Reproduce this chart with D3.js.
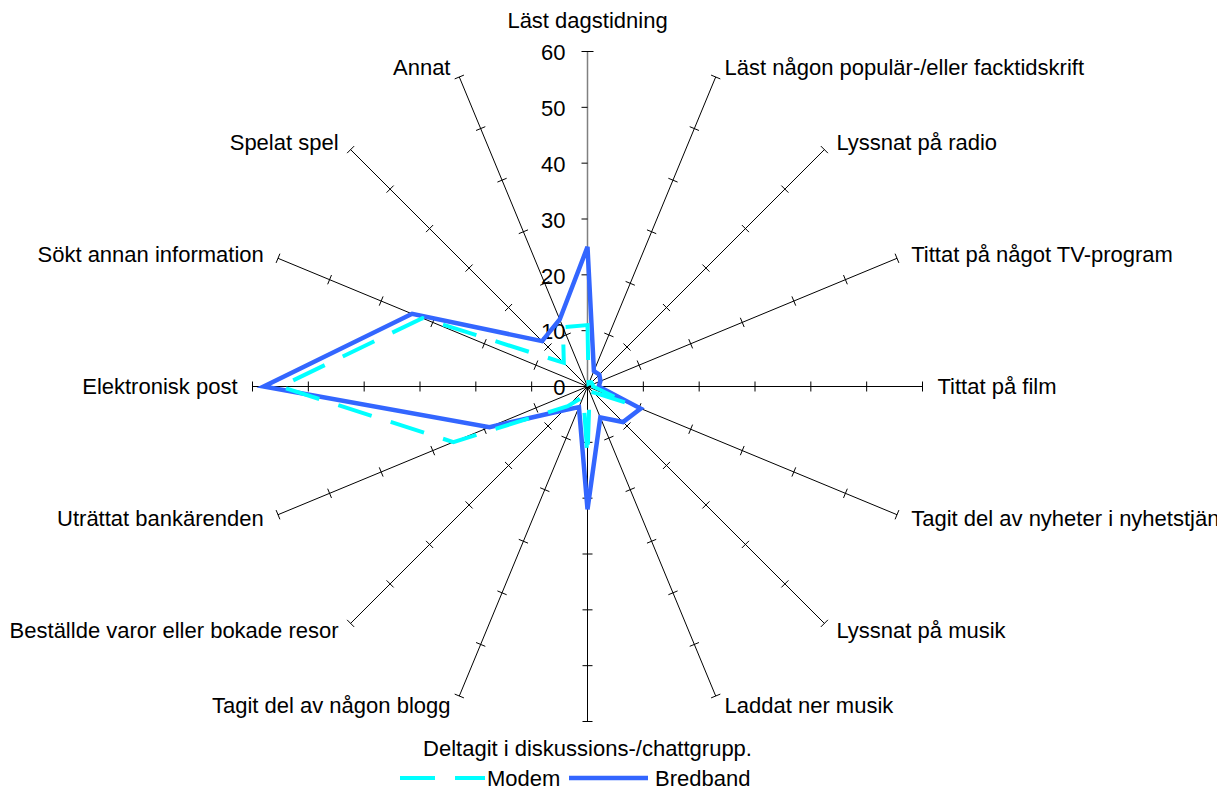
<!DOCTYPE html>
<html>
<head>
<meta charset="utf-8">
<script src="https://cdn.jsdelivr.net/npm/d3@7"></script>
<style>
  html, body { margin: 0; padding: 0; background: #fff; }
  svg { display: block; font-family: "Liberation Sans", Arial, sans-serif; }
</style>
</head>
<body>
<svg id="chart"></svg>
<script>
// categories, clockwise from the top
var categories = [
  "Läst dagstidning",
  "Läst någon populär-/eller facktidskrift",
  "Lyssnat på radio",
  "Tittat på något TV-program",
  "Tittat på film",
  "Tagit del av nyheter i nyhetstjänster",
  "Lyssnat på musik",
  "Laddat ner musik",
  "Deltagit i diskussions-/chattgrupp.",
  "Tagit del av någon blogg",
  "Beställde varor eller bokade resor",
  "Uträttat bankärenden",
  "Elektronisk post",
  "Sökt annan information",
  "Spelat spel",
  "Annat"
];

var modem    = [11, 0.5, 1, 1, 1, 8, 1.5, 1, 12.5, 2, 5, 26, 55, 32, 6, 11.5];
var bredband = [25, 3, 3, 2.5, 2, 10.3, 9, 6, 22, 4, 6, 19, 58, 34, 11.5, 13];

var seriesNames = ["Modem", "Bredband"];
var tickValues = [0, 10, 20, 30, 40, 50, 60];

var width = 1217, height = 788,
    cx = 587.5, cy = 386.5,
    radius = 335,
    fontSize = "22px";

var svg = d3.select("#chart")
    .attr("width", width)
    .attr("height", height);

var r = d3.scaleLinear()
    .domain([0, 60])
    .range([0, radius]);

var angle = d3.scaleLinear()
    .domain([0, categories.length])
    .range([0, 2 * Math.PI]);

var g = svg.append("g")
    .attr("transform", "translate(" + cx + "," + cy + ")");

//-------------spokes + ticks-------------
categories.forEach(function(c, i) {
  var a = angle(i),
      sx = Math.sin(a), sy = -Math.cos(a);

  if (i == 0) return; // value axis drawn separately

  g.append("line")
    .attr("x1", 0).attr("y1", 0)
    .attr("x2", sx * r(60)).attr("y2", sy * r(60))
    .style("stroke", "#000")
    .style("stroke-width", 1);

  // little cross ticks every 10
  tickValues.slice(1).forEach(function(t) {
    var px = sx * r(t), py = sy * r(t);
    g.append("line")
      .attr("x1", px - sy * 5).attr("y1", py + sx * 5)
      .attr("x2", px + sy * 5).attr("y2", py - sx * 5)
      .style("stroke", "#000")
      .style("stroke-width", 1);
  });
});

// value axis (straight up)
g.append("line")
  .attr("x1", 0).attr("y1", 0)
  .attr("x2", 0).attr("y2", -r(60))
  .style("stroke", "#808080")
  .style("stroke-width", 1.5);

tickValues.forEach(function(t) {
  g.append("line")
    .attr("x1", -6).attr("y1", -r(t))
    .attr("x2", t == 60 ? 6 : 0).attr("y2", -r(t))
    .style("stroke", "#000")
    .style("stroke-width", 1);

  g.append("text")
    .attr("x", -22)
    .attr("y", -r(t) + 1)
    .attr("dy", "0.35em")
    .style("text-anchor", "end")
    .style("font-size", fontSize)
    .style("fill", "#000")
    .text(t);
});

//-------------series-------------
var line = d3.lineRadial()
    .angle(function(d, i) { return angle(i); })
    .radius(function(d) { return r(d); })
    .curve(d3.curveLinearClosed);

g.append("path")
  .datum(bredband)
  .attr("d", line)
  .style("fill", "none")
  .style("stroke", "#3366ff")
  .style("stroke-width", 4.5)
  .style("stroke-linejoin", "miter");

g.append("path")
  .datum(modem)
  .attr("d", line)
  .style("fill", "none")
  .style("stroke", "#00ffff")
  .style("stroke-width", 4)
  .style("stroke-dasharray", "35,20")
  .style("stroke-linejoin", "miter");

//-------------category labels-------------
categories.forEach(function(c, i) {
  var a = angle(i),
      sx = Math.sin(a), sy = -Math.cos(a),
      ex = sx * r(60), ey = sy * r(60);
  var lbl = g.append("text")
    .style("font-size", fontSize)
    .style("fill", "#000")
    .attr("dy", "0.35em")
    .text(c);

  if (Math.abs(sx) < 0.01) {
    lbl.style("text-anchor", "middle")
      .attr("x", 0)
      .attr("y", ey + (sy < 0 ? -31 : 27));
  } else {
    var off = 5 + 10 * Math.abs(sx);
    lbl.style("text-anchor", sx > 0 ? "start" : "end")
      .attr("x", ex + (sx > 0 ? off : -off))
      .attr("y", ey + sy * 10);
  }
});

//-------------legend-------------
var legendY = 778;
var legend = svg.append("g");

legend.append("line")
  .attr("x1", 400).attr("x2", 485)
  .attr("y1", legendY).attr("y2", legendY)
  .style("stroke", "#00ffff")
  .style("stroke-width", 4)
  .style("stroke-dasharray", "35,20");
legend.append("text")
  .attr("x", 487).attr("y", legendY)
  .attr("dy", "0.35em")
  .style("font-size", fontSize)
  .text(seriesNames[0]);

legend.append("line")
  .attr("x1", 569).attr("x2", 648)
  .attr("y1", legendY).attr("y2", legendY)
  .style("stroke", "#3366ff")
  .style("stroke-width", 4.5);
legend.append("text")
  .attr("x", 655).attr("y", legendY)
  .attr("dy", "0.35em")
  .style("font-size", fontSize)
  .text(seriesNames[1]);
</script>
</body>
</html>
